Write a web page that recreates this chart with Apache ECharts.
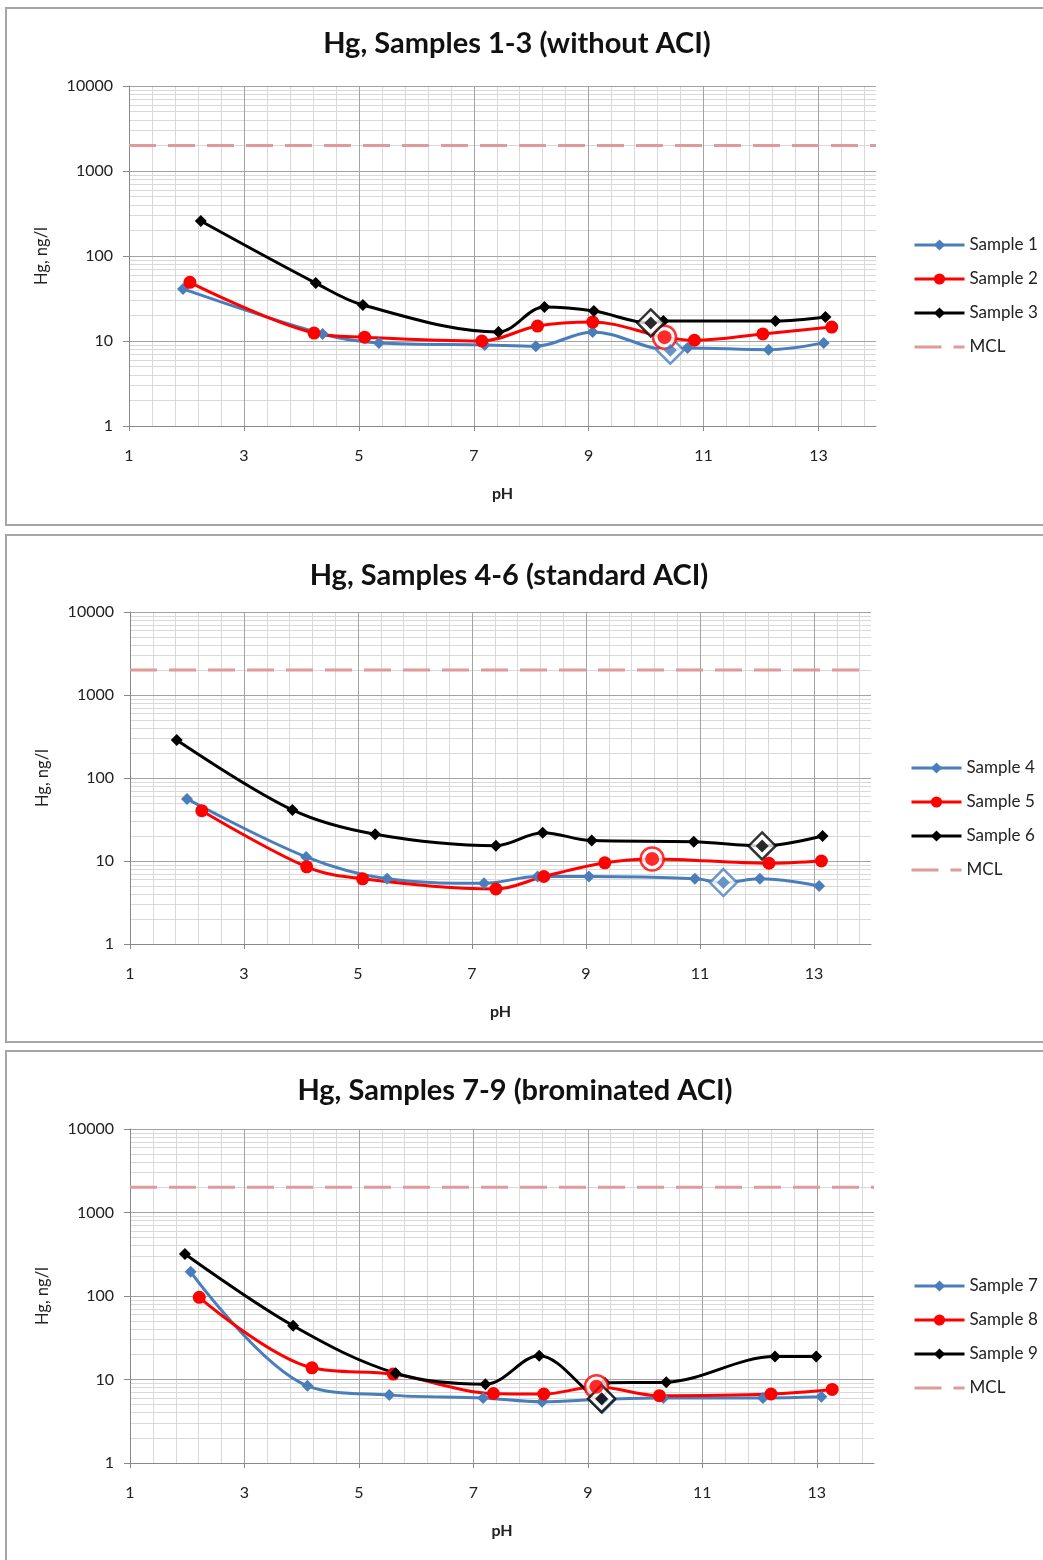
<!DOCTYPE html>
<html>
<head>
<meta charset="utf-8">
<title>Hg vs pH</title>
<script src="https://cdn.jsdelivr.net/npm/echarts@6/dist/echarts.min.js"></script>
<style>
  html, body { margin: 0; padding: 0; background: #fff; overflow: hidden; }
  .panel { position: absolute; left: 5px; width: 1045px; border: 2px solid #a6a6a6; background: #fff; }
</style>
</head>
<body>
<div id="chart1" class="panel" style="top:7px;height:515px"></div>
<div id="chart2" class="panel" style="top:534px;height:505px"></div>
<div id="chart3" class="panel" style="top:1050px;height:520px"></div>
<script>
// axis ranges and the MCL level
const xMin = 1, xMax = 14;
const yMin = 1, yMax = 10000;
const mcl = 2000;

// panel 1 - without ACI
const ph1 = [1.94, 4.37, 5.35, 7.19, 8.08, 9.07, 10.42, 10.72, 12.13, 13.09];
const hg1 = [41, 12.1, 9.5, 9.0, 8.7, 12.8, 7.8, 8.3, 7.9, 9.5];
const ph2 = [2.06, 4.22, 5.10, 7.14, 8.11, 9.07, 10.32, 10.84, 12.03, 13.23];
const hg2 = [49, 12.4, 11.1, 10.0, 15.0, 16.7, 11.1, 10.2, 12.1, 14.6];
const ph3 = [2.25, 4.25, 5.07, 7.43, 8.23, 9.09, 10.08, 10.30, 12.25, 13.12];
const hg3 = [258, 48, 26.5, 12.8, 25.1, 22.5, 16.3, 17.2, 17.2, 19.2];

// panel 2 - standard ACI
const ph4 = [2.00, 4.09, 5.51, 7.21, 8.15, 9.05, 10.91, 11.41, 12.05, 13.09];
const hg4 = [56, 11.2, 6.1, 5.4, 6.5, 6.5, 6.1, 5.5, 6.1, 5.0];
const ph5 = [2.26, 4.10, 5.08, 7.42, 8.26, 9.33, 10.16, 12.21, 13.13];
const hg5 = [40.4, 8.5, 6.1, 4.6, 6.5, 9.5, 10.6, 9.4, 10.0];
const ph6 = [1.82, 3.85, 5.30, 7.42, 8.24, 9.10, 10.89, 12.09, 13.15];
const hg6 = [287, 41.2, 21, 15.3, 21.9, 17.6, 17.1, 15.2, 20.0];

// panel 3 - brominated ACI
const ph7 = [2.06, 4.10, 5.53, 7.17, 8.20, 9.25, 10.32, 12.06, 13.08];
const hg7 = [195, 8.4, 6.5, 6.0, 5.4, 5.8, 6.0, 6.0, 6.2];
const ph8 = [2.21, 4.18, 5.60, 7.35, 8.23, 9.15, 10.25, 12.20, 13.27];
const hg8 = [96.5, 13.8, 11.6, 6.8, 6.7, 8.2, 6.4, 6.7, 7.6];
const ph9 = [1.96, 3.85, 5.64, 7.21, 8.15, 9.24, 9.30, 10.37, 12.27, 12.99];
const hg9 = [318, 44, 11.9, 8.8, 19.3, 5.9, 9.1, 9.3, 18.8, 18.8];

// index of the circled point in each sample
const ring1 = 6, ring2 = 6, ring3 = 6;
const ring4 = 7, ring5 = 6, ring6 = 7;
const ring7 = 5, ring8 = 5, ring9 = 5;

const font = 'Lato, "Open Sans", sans-serif';
const blue = '#4a7ebb', red = '#ff0000', black = '#000000', mclColor = '#e09a9a';

function sample(name, ph, hg, ring, color, symbol) {
  return { name: name, ph: ph, hg: hg, ring: ring, color: color, symbol: symbol };
}

function makeOption(cfg) {
  var series = [];
  var legendData = [];

  // minor log grid lines (2..9 in every decade)
  var minorY = [];
  for (var d = yMin; d < yMax; d *= 10) {
    for (var k = 2; k <= 9; k++) minorY.push({ yAxis: d * k });
  }
  series.push({
    type: 'line', data: [], silent: true, z: 0,
    markLine: {
      silent: true, symbol: ['none', 'none'], animation: false, z: 0,
      label: { show: false },
      lineStyle: { color: '#d9d9d9', width: 1, type: 'solid' },
      emphasis: { disabled: true },
      data: minorY
    }
  });

  cfg.samples.forEach(function (s) {
    var size = s.symbol == 'circle' ? 13 : 12;
    legendData.push(s.name);
    series.push({
      name: s.name, type: 'line', smooth: 0.35, z: 3,
      data: s.ph.map(function (x, i) { return [x, s.hg[i]]; }),
      symbol: s.symbol, symbolSize: size,
      lineStyle: { color: s.color, width: 3 },
      itemStyle: { color: s.color }
    });
  });

  // circled points: white-filled ring on top of the line, marker inside
  cfg.samples.forEach(function (s) {
    var pt = [[s.ph[s.ring], s.hg[s.ring]]];
    series.push({
      type: 'scatter', silent: true, z: 4, data: pt,
      symbol: s.symbol, symbolSize: s.symbol == 'circle' ? 23 : 27,
      itemStyle: { color: '#fff', borderColor: s.color, borderWidth: 2.5 }
    });
    series.push({
      type: 'scatter', silent: true, z: 5, data: pt,
      symbol: s.symbol, symbolSize: s.symbol == 'circle' ? 14 : 13,
      itemStyle: { color: s.color }
    });
  });

  legendData.push({ name: 'MCL', itemStyle: { opacity: 0 } });
  series.push({
    name: 'MCL', type: 'line', z: 2, symbol: 'none',
    data: [[xMin, mcl], [xMax, mcl]],
    lineStyle: { color: mclColor, width: 3, type: [27, 12] },
    itemStyle: { color: mclColor }
  });

  return {
    animation: false,
    textStyle: { fontFamily: font },
    title: {
      text: cfg.title, left: cfg.titleX, top: cfg.titleY, textAlign: 'center', padding: 0,
      textStyle: { fontFamily: font, fontSize: 29, fontWeight: 'bold', color: '#111' }
    },
    legend: {
      orient: 'vertical', left: cfg.legendX, top: cfg.legendY, padding: 0,
      itemWidth: 50, itemHeight: 14, itemGap: 14,
      data: legendData,
      lineStyle: { width: 3 },
      textStyle: { fontFamily: font, fontSize: 17, lineHeight: 20, color: '#222' }
    },
    grid: { left: cfg.grid[0], top: cfg.grid[1], width: cfg.grid[2], height: cfg.grid[3], containLabel: false },
    xAxis: [{
      type: 'value', min: xMin, max: xMax, interval: 2, z: 2,
      name: 'pH', nameLocation: 'middle', nameGap: 60,
      nameTextStyle: { fontFamily: font, fontSize: 16, fontWeight: 'bold', color: '#222' },
      axisLine: { onZero: false, lineStyle: { color: '#888' } },
      axisTick: { length: 5, lineStyle: { color: '#888' } },
      axisLabel: { margin: 22, fontSize: 16, color: '#222', showMaxLabel: false, fontFamily: font },
      splitLine: { show: true, showMaxLine: false, lineStyle: { color: '#a3a3a3' } }
    }, {
      type: 'value', min: xMin, max: xMax, interval: 0.4, z: 1,
      axisLine: { show: false }, axisTick: { show: false }, axisLabel: { show: false },
      splitLine: { show: true, showMaxLine: false, lineStyle: { color: '#d9d9d9' } }
    }],
    yAxis: {
      type: 'log', logBase: 10, min: yMin, max: yMax, z: 2,
      name: 'Hg, ng/l', nameLocation: 'middle', nameGap: 79,
      nameTextStyle: { fontFamily: font, fontSize: 16.5, color: '#222' },
      axisLine: { show: true, lineStyle: { color: '#888' } },
      axisTick: { show: true, length: 6, lineStyle: { color: '#888' } },
      axisLabel: { margin: 16, fontSize: 16, color: '#222', fontFamily: font,
        formatter: function (v) { return String(Math.round(v)); } },
      splitLine: { show: true, lineStyle: { color: '#a3a3a3' } }
    },
    series: series
  };
}

var panels = [{
  id: 'chart1', title: 'Hg, Samples 1-3 (without ACI)', titleX: 510, titleY: 20,
  legendX: 906, legendY: 226, grid: [122, 77, 747, 340],
  samples: [
    sample('Sample 1', ph1, hg1, ring1, blue, 'diamond'),
    sample('Sample 2', ph2, hg2, ring2, red, 'circle'),
    sample('Sample 3', ph3, hg3, ring3, black, 'diamond')
  ]
}, {
  id: 'chart2', title: 'Hg, Samples 4-6 (standard ACI)', titleX: 502, titleY: 25,
  legendX: 903, legendY: 222, grid: [123, 76, 741, 332],
  samples: [
    sample('Sample 4', ph4, hg4, ring4, blue, 'diamond'),
    sample('Sample 5', ph5, hg5, ring5, red, 'circle'),
    sample('Sample 6', ph6, hg6, ring6, black, 'diamond')
  ]
}, {
  id: 'chart3', title: 'Hg, Samples 7-9 (brominated ACI)', titleX: 508, titleY: 24,
  legendX: 906, legendY: 224, grid: [123, 77, 744, 334],
  samples: [
    sample('Sample 7', ph7, hg7, ring7, blue, 'diamond'),
    sample('Sample 8', ph8, hg8, ring8, red, 'circle'),
    sample('Sample 9', ph9, hg9, ring9, black, 'diamond')
  ]
}];

panels.forEach(function (p) {
  var chart = echarts.init(document.getElementById(p.id));
  chart.setOption(makeOption(p));
});
</script>
</body>
</html>
